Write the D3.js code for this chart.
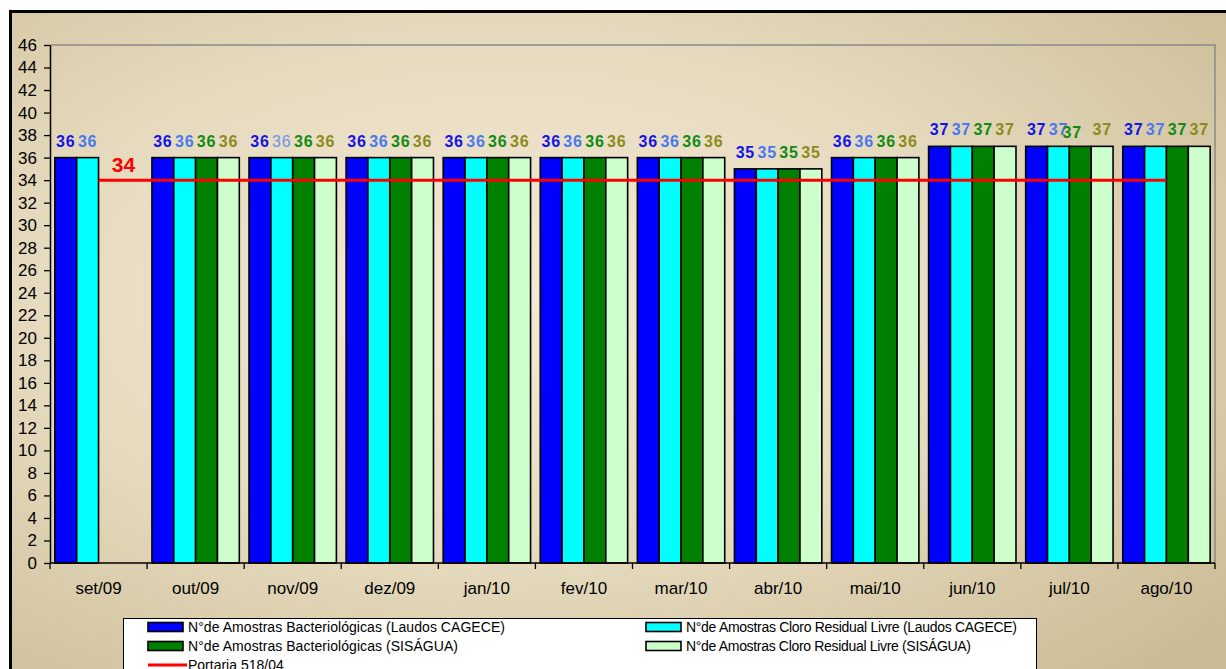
<!DOCTYPE html>
<html><head><meta charset="utf-8">
<script src="https://cdn.jsdelivr.net/npm/d3@7"></script>
<style>html,body{margin:0;padding:0;background:#fff;overflow:hidden}svg{display:block}</style>
</head><body>
<svg id="c" width="1226" height="669"></svg>
<script>
const categories = ["set/09","out/09","nov/09","dez/09","jan/10","fev/10","mar/10","abr/10","mai/10","jun/10","jul/10","ago/10"];
const bactCagece   = [36,36,36,36,36,36,36,35,36,37,37,37];
const cloroCagece  = [36,36,36,36,36,36,36,35,36,37,37,37];
const bactSisagua  = [null,36,36,36,36,36,36,35,36,37,37,37];
const cloroSisagua = [null,36,36,36,36,36,36,35,36,37,37,37];
const portaria     = [34,34,34,34,34,34,34,34,34,34,34,34];
const yTicks = d3.range(0, 47, 2);
const seriesNames = [
  "N°de Amostras Bacteriológicas (Laudos CAGECE)",
  "N°de Amostras Cloro Residual Livre (Laudos CAGECE)",
  "N°de Amostras Bacteriológicas (SISÁGUA)",
  "N°de Amostras Cloro Residual Livre (SISÁGUA)"
];
const lineName = "Portaria 518/04";

const series = [bactCagece, cloroCagece, bactSisagua, cloroSisagua];
const barColors = ["#0000ff","#00ffff","#008000","#ccffcc"];
const labelColors = ["#1414e6","#4a78f0","#138a13","#8c8a1c"];

const svg = d3.select("#c");
const defs = svg.append("defs");
const rg = defs.append("radialGradient").attr("id","bg").attr("cx","40%").attr("cy","42%").attr("r","75%");
rg.append("stop").attr("offset","0%").attr("stop-color","#f4ead5");
rg.append("stop").attr("offset","50%").attr("stop-color","#e6dbbf");
rg.append("stop").attr("offset","100%").attr("stop-color","#ccbc96");

svg.append("rect").attr("x",10.5).attr("y",11.5).attr("width",1240).attr("height",680)
  .attr("fill","url(#bg)").attr("stroke","#000").attr("stroke-width",3);

const L = 50, R = 1215, T = 45, B = 563;
const x0 = d3.scaleBand().domain(categories).range([L, R]).paddingInner(0.1).paddingOuter(0.05);
const x1 = d3.scaleBand().domain(d3.range(4)).range([0, x0.bandwidth()]).padding(0);
const y = d3.scaleLinear().domain([0, 46]).range([B, T]);

svg.append("path").attr("d", `M${L},${T}H${R}V${B}`).attr("fill","none").attr("stroke","#8a8a8a").attr("stroke-width",1.5);

const groups = svg.append("g").selectAll("g").data(categories).join("g")
  .attr("transform", d => `translate(${x0(d)},0)`);
groups.each(function(cat, ci) {
  const g = d3.select(this);
  series.forEach((s, si) => {
    const v = s[ci];
    if (v == null) return;
    g.append("rect").attr("x", x1(si)).attr("y", y(v))
      .attr("width", x1.bandwidth()).attr("height", y(0) - y(v))
      .attr("fill", barColors[si]).attr("stroke", "#000").attr("stroke-width", 1.6);
  });
});

const labelAdjust = { "10-2": {dx:-8, dy:3}, "2-1": {normal:true, color:"#6f92ee"} };
groups.each(function(cat, ci) {
  const g = d3.select(this);
  series.forEach((s, si) => {
    const v = s[ci];
    if (v == null) return;
    const adj = labelAdjust[ci + "-" + si] || {};
    g.append("text")
      .attr("x", x1(si) + x1.bandwidth()/2 + (adj.dx||0))
      .attr("y", y(v) - 11 + (adj.dy||0))
      .attr("text-anchor","middle")
      .attr("font-family","Liberation Sans, Arial, sans-serif")
      .attr("font-size", 16).attr("font-weight", adj.normal ? "normal" : "bold")
      .attr("letter-spacing", 0.8)
      .attr("fill", adj.color || labelColors[si]).text(v);
  });
});

const line = d3.line().x((d,i) => x0(categories[i]) + x0.bandwidth()/2).y(d => y(d));
svg.append("path").datum(portaria).attr("d", line).attr("fill","none").attr("stroke","#ff0000").attr("stroke-width",3);
svg.append("text").attr("x", x0(categories[0]) + x0.bandwidth()/2 + 25).attr("y", y(portaria[0]) - 8)
  .attr("text-anchor","middle").attr("font-family","Liberation Sans, Arial, sans-serif")
  .attr("font-size", 21).attr("font-weight","bold").attr("fill","#ff0000").text(portaria[0]);

const yAxis = svg.append("g").attr("transform", `translate(${L},0)`)
  .call(d3.axisLeft(y).tickValues(yTicks).tickSize(6).tickPadding(7).tickSizeOuter(0));
yAxis.select(".domain").attr("stroke","#000").attr("stroke-width",1.5);
yAxis.selectAll(".tick line").attr("stroke","#000").attr("stroke-width",1.3);
yAxis.selectAll("text").attr("font-family","Liberation Sans, Arial, sans-serif").attr("font-size",17).attr("fill","#000");

const xAxis = svg.append("g").attr("transform", `translate(0,${B})`);
xAxis.append("line").attr("x1", L).attr("x2", R).attr("stroke","#000").attr("stroke-width",1.5);
const bounds = categories.map(c => x0(c) - x0.step()*x0.paddingInner()/2).concat([R]);
bounds[0] = L;
xAxis.selectAll("line.t").data(bounds).join("line").attr("class","t")
  .attr("x1", d=>d).attr("x2", d=>d).attr("y1",0).attr("y2",6).attr("stroke","#000").attr("stroke-width",1.3);
xAxis.selectAll("text").data(categories).join("text")
  .attr("x", d => x0(d) + x0.bandwidth()/2).attr("y", 31)
  .attr("text-anchor","middle").attr("font-family","Liberation Sans, Arial, sans-serif")
  .attr("font-size",17).attr("fill","#000").text(d=>d);

const lg = svg.append("g");
lg.append("rect").attr("x",123.5).attr("y",618.5).attr("width",913).attr("height",80).attr("fill","#fff").attr("stroke","#000").attr("stroke-width",1);
const legPos = [[148,627],[646,627],[148,646],[646,646]];
const legLen = [317, 331, 270, 285];
seriesNames.forEach((n, i) => {
  const [lx, ly] = legPos[i];
  lg.append("rect").attr("x", lx).attr("y", ly-4.5).attr("width",35).attr("height",9)
    .attr("fill", barColors[i]).attr("stroke","#000").attr("stroke-width",1.6);
  lg.append("text").attr("x", lx+40).attr("y", ly+5).attr("font-family","Liberation Sans, Arial, sans-serif")
    .attr("font-size",14).attr("textLength", legLen[i]).attr("lengthAdjust","spacing")
    .attr("fill","#000").text(n);
});
lg.append("line").attr("x1",148).attr("x2",187).attr("y1",665).attr("y2",665).attr("stroke","#ff0000").attr("stroke-width",3);
lg.append("text").attr("x",188).attr("y",670).attr("font-family","Liberation Sans, Arial, sans-serif")
  .attr("font-size",14).attr("fill","#000").text(lineName);
</script>
</body></html>
